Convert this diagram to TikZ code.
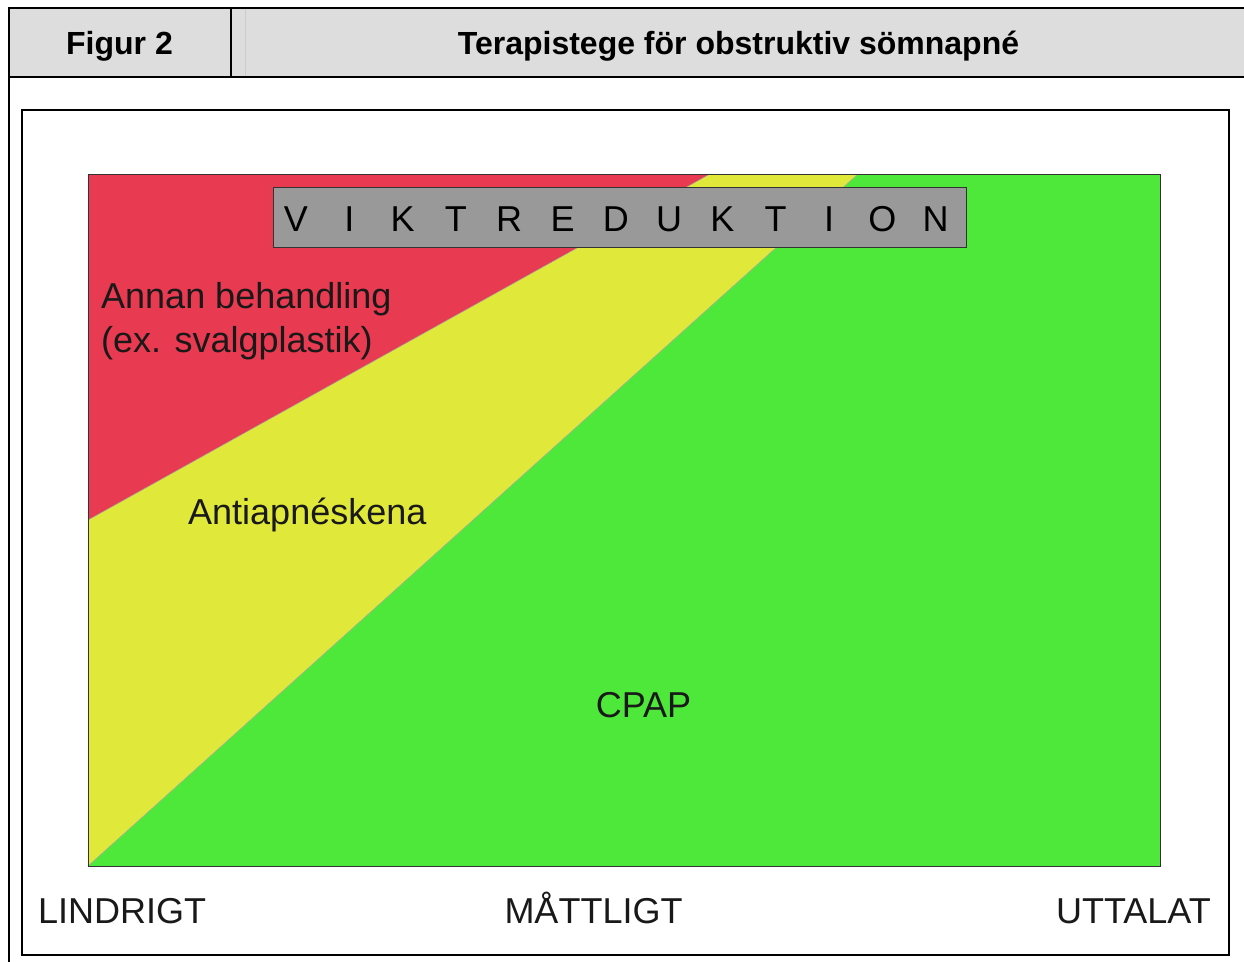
\documentclass[tikz,border=0pt]{standalone}
\usepackage{fontspec}
\setmainfont{Liberation Sans}
\usepackage{tikz}
\usepackage{xcolor}
\usetikzlibrary{positioning}
\definecolor{headgray}{RGB}{221,221,221}
\definecolor{zonered}{RGB}{232,58,80}
\definecolor{zoneyellow}{RGB}{224,232,58}
\definecolor{zonegreen}{RGB}{78,232,58}
\definecolor{boxgray}{RGB}{153,153,153}

\begin{document}
\begin{tikzpicture}[x=1pt,y=-1pt,
  lbl/.style={font=\fontsize{36}{44}\selectfont,anchor=base west,inner sep=0pt,text=black!90},
  hdr/.style={font=\fontsize{32}{38}\selectfont\bfseries,anchor=base,inner sep=0pt}]
\useasboundingbox (0,0) rectangle (1244,961);
% header row
\fill[headgray] (9,8) rectangle (1250,77);
\draw[black!20,line width=1pt] (245,9) -- (245,76);
\draw[line width=2pt] (9,970) -- (9,8) -- (1250,8);
\draw[line width=2pt] (9,77) -- (1250,77);
\draw[line width=2pt] (231,8) -- (231,77);
\node[hdr] (fig) at (119.5,54) {Figur 2};
\node[hdr] (title) at (738.5,54) {Terapistege för obstruktiv sömnapné};
% chart frame
\draw[line width=1.2pt] (22,110) rectangle (1229,955);
% zones
\fill[zonegreen] (88,174) rectangle (1160,866);
\fill[zoneyellow] (88,866) -- (858,174) -- (710,174) -- (88,520) -- cycle;
\fill[zonered] (88,520) -- (710,174) -- (88,174) -- cycle;
\draw[black!35,line width=0.5pt] (88,866) -- (858,174) (88,520) -- (710,174);
\draw[black!80,line width=0.8pt] (88,174) rectangle (1160,866);
% viktreduktion
\node[draw=black!80,line width=0.8pt,fill=boxgray,minimum width=693pt,minimum height=60pt,inner sep=0pt] (vikt) at (619.5,217) {};
\foreach \c [count=\i from 0] in {V,I,K,T,R,E,D,U,K,T,I,O,N}{
  \node[font=\fontsize{36}{44}\selectfont,anchor=base,inner sep=0pt] (v\i) at (296+53.3*\i,231) {\c};
}
% zone labels
\node[lbl] (annan) at (101,308) {Annan behandling};
\node[lbl] (svalg) at (101,352) {(ex. svalgplastik)};
\node[lbl] (anti) at (188,524) {Antiapnéskena};
\node[lbl,anchor=base] (cpap) at (643.5,717) {CPAP};
% severity axis
\node[lbl] (lindrigt) at (38,923) {LINDRIGT};
\node[lbl,anchor=base] (mattligt) at (593.5,923) {MÅTTLIGT};
\node[lbl,anchor=base east] (uttalat) at (1211,923) {UTTALAT};
\end{tikzpicture}
\end{document}
